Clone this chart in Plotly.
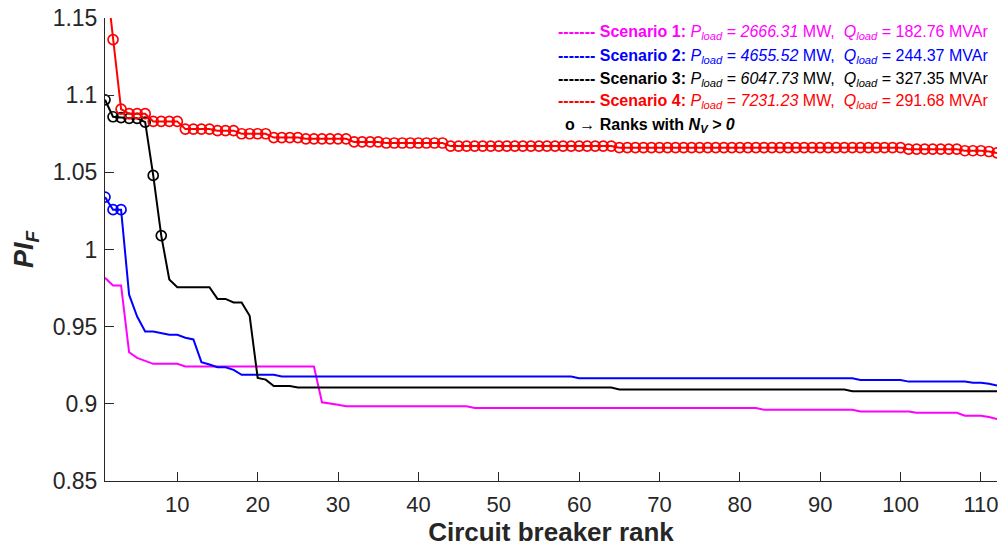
import plotly.graph_objects as go

# Circuit breaker ranks 1..112
ranks = list(range(1, 113))

# PI_F per rank, one list per loading scenario
pi_s1 = [
    0.9817, 0.9767, 0.9767, 0.9334, 0.9298, 0.928, 0.9259, 0.9259, 0.9259, 0.9259,
    0.9242, 0.9242, 0.9242, 0.9242, 0.9242, 0.9242, 0.9242, 0.9242, 0.9242, 0.9242,
    0.9242, 0.9242, 0.9242, 0.9242, 0.9242, 0.9242, 0.9242, 0.901, 0.9004, 0.8994,
    0.8984, 0.8984, 0.8984, 0.8984, 0.8984, 0.8984, 0.8984, 0.8984, 0.8984, 0.8984,
    0.8984, 0.8984, 0.8984, 0.8984, 0.8984, 0.8984, 0.8973, 0.8973, 0.8973, 0.8973,
    0.8973, 0.8973, 0.8973, 0.8973, 0.8973, 0.8973, 0.8973, 0.8973, 0.8973, 0.8973,
    0.8973, 0.8973, 0.8973, 0.8973, 0.8973, 0.8973, 0.8973, 0.8973, 0.8973, 0.8973,
    0.8973, 0.8973, 0.8973, 0.8973, 0.8973, 0.8973, 0.8973, 0.8973, 0.8973, 0.8973,
    0.8973, 0.8973, 0.8962, 0.8962, 0.8962, 0.8962, 0.8962, 0.8962, 0.8962, 0.8962,
    0.8962, 0.8962, 0.8962, 0.8962, 0.8951, 0.8951, 0.8951, 0.8951, 0.8951, 0.8951,
    0.8951, 0.8942, 0.8942, 0.8942, 0.8942, 0.8942, 0.8942, 0.8923, 0.8923, 0.8923,
    0.8915, 0.8901,
]

pi_s2 = [
    1.034, 1.0258, 1.0258, 0.9707, 0.9566, 0.9469, 0.9469, 0.9458, 0.9447, 0.9447,
    0.9428, 0.9417, 0.927, 0.9255, 0.9237, 0.9237, 0.922, 0.9188, 0.9188, 0.9188,
    0.9188, 0.9188, 0.9177, 0.9177, 0.9177, 0.9177, 0.9177, 0.9177, 0.9177, 0.9177,
    0.9177, 0.9177, 0.9177, 0.9177, 0.9177, 0.9177, 0.9177, 0.9177, 0.9177, 0.9177,
    0.9177, 0.9177, 0.9177, 0.9177, 0.9177, 0.9177, 0.9177, 0.9177, 0.9177, 0.9177,
    0.9177, 0.9177, 0.9177, 0.9177, 0.9177, 0.9177, 0.9177, 0.9177, 0.9177, 0.9166,
    0.9166, 0.9166, 0.9166, 0.9166, 0.9166, 0.9166, 0.9166, 0.9166, 0.9166, 0.9166,
    0.9166, 0.9166, 0.9166, 0.9166, 0.9166, 0.9166, 0.9166, 0.9166, 0.9166, 0.9166,
    0.9166, 0.9166, 0.9166, 0.9166, 0.9166, 0.9166, 0.9166, 0.9166, 0.9166, 0.9166,
    0.9166, 0.9166, 0.9166, 0.9166, 0.9155, 0.9155, 0.9155, 0.9155, 0.9155, 0.9155,
    0.9144, 0.9144, 0.9144, 0.9144, 0.9144, 0.9144, 0.9144, 0.9144, 0.9136, 0.9136,
    0.913, 0.9118,
]

pi_s3 = [
    1.097, 1.086, 1.0855, 1.085, 1.085, 1.0825, 1.048, 1.009, 0.9806, 0.9756,
    0.9756, 0.9756, 0.9756, 0.9756, 0.968, 0.968, 0.9657, 0.9657, 0.957, 0.9168,
    0.9157, 0.9115, 0.9115, 0.9115, 0.9106, 0.9106, 0.9106, 0.9106, 0.9106, 0.9106,
    0.9106, 0.9106, 0.9106, 0.9106, 0.9106, 0.9106, 0.9106, 0.9106, 0.9106, 0.9106,
    0.9106, 0.9106, 0.9106, 0.9106, 0.9106, 0.9106, 0.9106, 0.9106, 0.9106, 0.9106,
    0.9106, 0.9106, 0.9106, 0.9106, 0.9106, 0.9106, 0.9106, 0.9106, 0.9106, 0.9106,
    0.9106, 0.9106, 0.9106, 0.9106, 0.9093, 0.9093, 0.9093, 0.9093, 0.9093, 0.9093,
    0.9093, 0.9093, 0.9093, 0.9093, 0.9093, 0.9093, 0.9093, 0.9093, 0.9093, 0.9093,
    0.9093, 0.9093, 0.9093, 0.9093, 0.9093, 0.9093, 0.9093, 0.9093, 0.9093, 0.9093,
    0.9093, 0.9093, 0.9093, 0.9082, 0.9082, 0.9082, 0.9082, 0.9082, 0.9082, 0.9082,
    0.9082, 0.9082, 0.9082, 0.9082, 0.9082, 0.9082, 0.9082, 0.9082, 0.9082, 0.9082,
    0.9082, 0.9082,
]

pi_s4 = [
    1.183, 1.136, 1.091, 1.088, 1.088, 1.088, 1.083, 1.083, 1.083, 1.083,
    1.078, 1.078, 1.078, 1.078, 1.077, 1.077, 1.077, 1.075, 1.075, 1.075,
    1.075, 1.0725, 1.0725, 1.0725, 1.0725, 1.0717, 1.0717, 1.0717, 1.0717, 1.0717,
    1.0717, 1.0697, 1.0697, 1.0697, 1.0697, 1.069, 1.069, 1.069, 1.069, 1.069,
    1.069, 1.069, 1.069, 1.067, 1.067, 1.067, 1.067, 1.067, 1.067, 1.067,
    1.067, 1.067, 1.067, 1.067, 1.067, 1.067, 1.067, 1.067, 1.067, 1.067,
    1.067, 1.067, 1.067, 1.067, 1.066, 1.066, 1.066, 1.066, 1.066, 1.066,
    1.066, 1.066, 1.066, 1.066, 1.066, 1.066, 1.066, 1.066, 1.066, 1.066,
    1.066, 1.066, 1.066, 1.066, 1.066, 1.066, 1.066, 1.066, 1.066, 1.066,
    1.066, 1.066, 1.066, 1.066, 1.066, 1.066, 1.066, 1.066, 1.066, 1.066,
    1.065, 1.065, 1.065, 1.065, 1.065, 1.065, 1.065, 1.064, 1.064, 1.064,
    1.0635, 1.0626,
]

# Number of leading ranks with N_V > 0 in each scenario
nv_ranks = [0, 3, 8, 112]

scenario_names = ["Scenario 1", "Scenario 2", "Scenario 3", "Scenario 4"]
p_load = ["2666.31", "4655.52", "6047.73", "7231.23"]
q_load = ["182.76", "244.37", "327.35", "291.68"]
colors = ["#FF00FF", "#0000FF", "#000000", "#FF0000"]
series = [pi_s1, pi_s2, pi_s3, pi_s4]

FONT = "Liberation Sans, Arial, sans-serif"
AXIS_COLOR = "#262626"

fig = go.Figure()

for vals, col, n_nv in zip(series, colors, nv_ranks):
    fig.add_trace(go.Scatter(
        x=ranks, y=vals, mode="lines",
        line=dict(color=col, width=2),
        showlegend=False, hoverinfo="skip",
    ))
    if n_nv > 0:
        fig.add_trace(go.Scatter(
            x=ranks[:n_nv], y=vals[:n_nv], mode="markers",
            marker=dict(symbol="circle-open", size=10, color=col,
                        line=dict(color=col, width=1.7)),
            showlegend=False, hoverinfo="skip",
        ))

# Text legend block in the upper right
legend_y = [1.1405, 1.1249, 1.1102, 1.0957]
for name, p, q, col, yv in zip(scenario_names, p_load, q_load, colors, legend_y):
    txt = (f"<b>------- {name}:</b> <i>P<sub>load</sub></i> = <i>{p}</i> MW,&nbsp; "
           f"<i>Q<sub>load</sub></i> = {q} MVAr")
    fig.add_annotation(
        x=0.9926, xref="paper", y=yv, yref="y",
        xanchor="right", yanchor="middle", showarrow=False,
        text=txt, font=dict(family=FONT, size=16, color=col),
    )

fig.add_annotation(
    x=0.514, xref="paper", y=1.0806, yref="y",
    xanchor="left", yanchor="middle", showarrow=False,
    text="<b>o</b> \u2192 <b>Ranks with <i>N<sub>V</sub> &gt; 0</i></b>",
    font=dict(family=FONT, size=16, color="#000000"),
)

# Y-axis title
fig.add_annotation(
    x=-0.089, xref="paper", y=0.5, yref="paper",
    xanchor="center", yanchor="middle", showarrow=False, textangle=-90,
    text="<b><i>PI<sub>F</sub></i></b>",
    font=dict(family=FONT, size=27, color=AXIS_COLOR),
)

fig.update_layout(
    width=1003, height=552,
    margin=dict(l=105, r=6, t=18, b=71),
    paper_bgcolor="white", plot_bgcolor="white",
    font=dict(family=FONT, color=AXIS_COLOR),
    xaxis=dict(
        range=[1, 112], tickmode="array",
        tickvals=[10, 20, 30, 40, 50, 60, 70, 80, 90, 100, 110],
        ticks="inside", ticklen=9, tickwidth=1, tickcolor=AXIS_COLOR,
        showline=True, linecolor=AXIS_COLOR, linewidth=1,
        showgrid=False, zeroline=False, ticklabelstandoff=4,
        tickfont=dict(family=FONT, size=22, color=AXIS_COLOR),
        title=dict(text="<b>Circuit breaker rank</b>",
                   font=dict(family=FONT, size=26, color=AXIS_COLOR), standoff=1),
    ),
    yaxis=dict(
        range=[0.85, 1.15], tickmode="array",
        tickvals=[0.85, 0.9, 0.95, 1.0, 1.05, 1.1, 1.15],
        ticktext=["0.85", "0.9", "0.95", "1", "1.05", "1.1", "1.15"],
        ticks="inside", ticklen=9, tickwidth=1, tickcolor=AXIS_COLOR,
        showline=True, linecolor=AXIS_COLOR, linewidth=1,
        showgrid=False, zeroline=False, ticklabelstandoff=2,
        tickfont=dict(family=FONT, size=23, color=AXIS_COLOR),
    ),
)

fig.write_html("out.html")
